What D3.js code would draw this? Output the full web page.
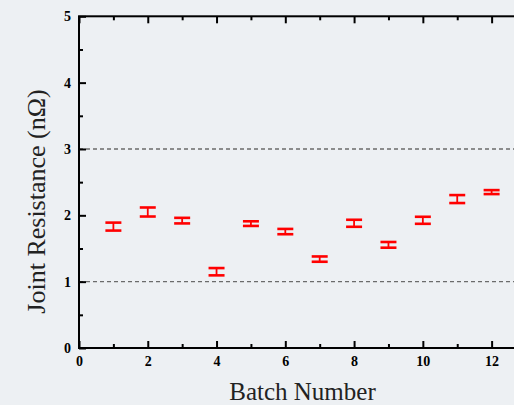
<!DOCTYPE html>
<html>
<head>
<meta charset="utf-8">
<script src="https://cdn.jsdelivr.net/npm/d3@7"></script>
<style>
  html, body { margin: 0; padding: 0; background: #edf0f3; overflow: hidden; }
  svg { display: block; }
  .tick-label text { font-family: "Liberation Serif", "Times New Roman", serif; font-weight: bold; font-size: 14px; fill: #000; }
</style>
</head>
<body>
<svg id="chart" width="514" height="405"></svg>
<script>
// Joint resistance per batch, with error half-widths (nΩ)
const batches = [1, 2, 3, 4, 5, 6, 7, 8, 9, 10, 11, 12];
const resistance = [1.83, 2.05, 1.92, 1.15, 1.875, 1.755, 1.34, 1.88, 1.555, 1.925, 2.245, 2.35];
const errors = [0.06, 0.068, 0.042, 0.055, 0.035, 0.04, 0.04, 0.053, 0.043, 0.053, 0.06, 0.03];
const xMajorTicks = [0, 2, 4, 6, 8, 10, 12];
const xMinorTicks = [1, 3, 5, 7, 9, 11, 13];
const yMajorTicks = [0, 1, 2, 3, 4, 5];
const yMinorTicks = [0.5, 1.5, 2.5, 3.5, 4.5];
const refLines = [1, 3];

const svg = d3.select("#chart");
const margin = { left: 79, top: 16.3, right: 526, bottom: 348 };

const x = d3.scaleLinear().domain([0, 13]).range([margin.left, margin.right]);
const y = d3.scaleLinear().domain([0, 5]).range([margin.bottom, margin.top]);

// reference lines
svg.selectAll("line.ref").data(refLines).enter().append("line")
  .attr("class", "ref")
  .attr("x1", x(0)).attr("x2", x(13))
  .attr("y1", d => y(d)).attr("y2", d => y(d))
  .attr("stroke", "#6b6b6b").attr("stroke-width", 1.3)
  .attr("stroke-dasharray", "4,3");

// axes
const styleAxis = g => {
  g.select(".domain").remove();
  g.selectAll("line").attr("stroke", "#000").attr("stroke-width", 2);
};

svg.append("g").attr("class", "tick-label").attr("transform", `translate(0,${y(0)})`)
  .call(d3.axisBottom(x).tickValues(xMajorTicks).tickSize(-7).tickPadding(8).tickFormat(d3.format("d")))
  .call(styleAxis);
svg.append("g").attr("transform", `translate(0,${y(0)})`)
  .call(d3.axisBottom(x).tickValues(xMinorTicks).tickSize(-4).tickFormat(""))
  .call(styleAxis);
svg.append("g").attr("transform", `translate(0,${y(5)})`)
  .call(d3.axisTop(x).tickValues(xMajorTicks).tickSize(-7).tickFormat(""))
  .call(styleAxis);
svg.append("g").attr("transform", `translate(0,${y(5)})`)
  .call(d3.axisTop(x).tickValues(xMinorTicks).tickSize(-4).tickFormat(""))
  .call(styleAxis);

svg.append("g").attr("class", "tick-label").attr("transform", `translate(${x(0)},0)`)
  .call(d3.axisLeft(y).tickValues(yMajorTicks).tickSize(-7).tickPadding(8).tickFormat(d3.format("d")))
  .call(styleAxis);
svg.append("g").attr("transform", `translate(${x(0)},0)`)
  .call(d3.axisLeft(y).tickValues(yMinorTicks).tickSize(-4).tickFormat(""))
  .call(styleAxis);

// frame
svg.append("rect")
  .attr("x", x(0)).attr("y", y(5))
  .attr("width", x(13) - x(0)).attr("height", y(0) - y(5))
  .attr("fill", "none").attr("stroke", "#000").attr("stroke-width", 2);

// error bars
const pts = batches.map((b, i) => ({ b, v: resistance[i], e: errors[i] }));
const capHalf = 8;
const eb = svg.append("g").attr("stroke", "#ff0000").attr("fill", "none");
eb.selectAll("line.stem").data(pts).enter().append("line")
  .attr("x1", d => x(d.b)).attr("x2", d => x(d.b))
  .attr("y1", d => y(d.v - d.e)).attr("y2", d => y(d.v + d.e))
  .attr("stroke-width", 1.8);
eb.selectAll("line.capTop").data(pts).enter().append("line")
  .attr("x1", d => x(d.b) - capHalf).attr("x2", d => x(d.b) + capHalf)
  .attr("y1", d => y(d.v + d.e)).attr("y2", d => y(d.v + d.e))
  .attr("stroke-width", 2.6);
eb.selectAll("line.capBot").data(pts).enter().append("line")
  .attr("x1", d => x(d.b) - capHalf).attr("x2", d => x(d.b) + capHalf)
  .attr("y1", d => y(d.v - d.e)).attr("y2", d => y(d.v - d.e))
  .attr("stroke-width", 2.6);

// axis titles
svg.append("text")
  .attr("x", (x(0) + x(13)) / 2).attr("y", 400)
  .attr("text-anchor", "middle")
  .attr("font-family", "'Liberation Serif', 'Times New Roman', serif")
  .attr("font-size", 25).attr("fill", "#222")
  .text("Batch Number");
svg.append("text")
  .attr("transform", `translate(45,${(88 + 315) / 2}) rotate(-90)`)
  .attr("text-anchor", "middle")
  .attr("font-family", "'Liberation Serif', 'Times New Roman', serif")
  .attr("font-size", 26).attr("fill", "#222")
  .text("Joint Resistance (nΩ)");
</script>
</body>
</html>
